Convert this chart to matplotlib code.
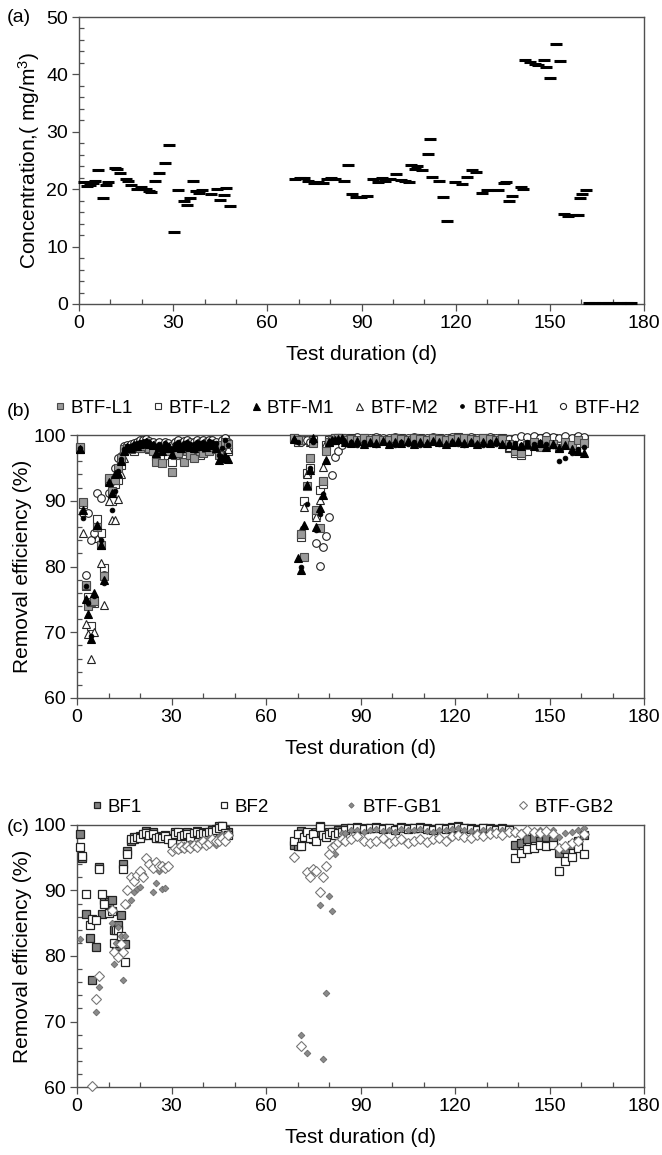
import matplotlib
matplotlib.use('Agg')
import matplotlib.pyplot as plt
from matplotlib.ticker import MultipleLocator

plt.rcParams['font.family'] = ['Liberation Sans', 'DejaVu Sans']
plt.rcParams['mathtext.fontset'] = 'custom'
plt.rcParams['mathtext.rm'] = 'Liberation Sans'
plt.rcParams['mathtext.it'] = 'Liberation Sans:italic'
plt.rcParams['mathtext.bf'] = 'Liberation Sans:bold'

nan = float('nan')

# ---------------- (a) inlet concentration ----------------
conc_days = [1.7, 2.4, 3.4, 4.4, 5.1, 6.0, 7.8, 8.5, 9.3, 11.4,
             12.2, 13.2, 14.9, 15.6, 16.5, 18.5, 19.6, 20.5, 21.2, 22.2,
             23.0, 24.3, 25.5, 27.3, 28.6, 30.4, 31.6, 33.3, 34.4, 35.3,
             36.3, 37.3, 38.3, 39.3, 42.0, 44.0, 45.0, 46.1, 46.7, 48.1,
             68.9, 70.5, 71.6, 72.9, 74.9, 76.3, 77.6, 79.0, 80.3, 81.7,
             84.3, 85.7, 87.0, 88.4, 89.7, 91.7, 93.7, 95.1, 96.4, 97.4,
             99.1, 101.1, 102.5, 103.8, 105.2, 105.8, 107.2, 107.8, 109.2, 111.2,
             111.9, 112.5, 114.6, 115.9, 117.2, 119.9, 121.9, 123.7, 125.3, 126.4,
             128.3, 130.0, 133.6, 135.4, 136.0, 137.1, 138.1, 140.7, 141.4, 142.1,
             143.8, 145.2, 146.1, 148.1, 148.8, 150.1, 151.9, 153.2, 154.6, 155.9,
             157.5, 159.1, 159.6, 160.2, 161.6,
             162.5, 164.5, 166.5, 168.5, 170.5, 172.5, 174.5, 176.0]
conc_vals = [21.3, 20.6, 20.8, 21.0, 21.5, 23.3, 18.4, 20.7, 21.3, 23.7,
             23.6, 22.8, 21.7, 21.4, 20.7, 20.0, 20.4, 20.1, 20.0, 19.7,
             19.5, 21.5, 22.9, 24.5, 27.7, 12.5, 19.8, 17.9, 17.3, 18.5,
             21.5, 19.6, 19.3, 19.8, 19.1, 20.1, 18.1, 19.0, 20.2, 17.0,
             21.7, 21.9, 22.0, 21.4, 21.0, 21.3, 21.0, 21.7, 21.9, 21.7,
             21.4, 24.3, 19.2, 18.7, 18.6, 18.8, 21.7, 21.3, 22.0, 21.5,
             21.7, 22.7, 21.6, 21.5, 21.3, 24.3, 23.5, 24.0, 23.3, 26.1,
             28.7, 22.2, 21.4, 18.6, 14.5, 21.2, 20.9, 22.1, 23.3, 23.0,
             19.4, 19.9, 19.8, 21.1, 21.3, 18.0, 18.9, 20.4, 20.0, 42.5,
             42.1, 41.8, 41.6, 42.5, 41.3, 39.3, 45.3, 42.4, 15.7, 15.4,
             15.5, 15.5, 18.4, 19.1, 19.8,
             0.1, 0.1, 0.1, 0.2, 0.2, 0.2, 0.2, 0.2]

# ---------------- (b) BTF series ----------------
days_b_early = [1, 2, 3, 3.5, 4.5, 5.5, 6.5, 7.5, 8.5, 10,
                11, 12, 13, 14, 15, 16, 17, 18, 19, 20,
                21, 22, 23, 24, 25, 26, 27, 28, 29, 30,
                31, 32, 33, 34, 35, 36, 37, 38, 39, 40,
                41, 42, 43, 44, 45, 46, 47, 48]
days_dip = [69, 70, 71, 72, 73, 74, 75, 76, 77, 78, 79, 80, 81, 82, 83, 84]
days_plateau = [85, 87, 89, 91, 93, 95, 97, 99, 101, 103,
                105, 107, 109, 111, 113, 115, 117, 119, 121, 123,
                125, 127, 129, 131, 133, 135, 137, 139, 141, 143,
                145, 147, 149, 151, 153, 155, 157, 159, 161]

L1_early = [98.2, 89.8, 77.2, 74.0, 74.6, 74.8, 86.0, 83.2, 78.6, 93.5,
            91.5, 93.2, 95.0, 96.5, 97.8, 98.0, 97.9, 98.2, 98.3, 98.0,
            98.4, 98.8, 98.0, 97.5, 95.9, 98.0, 95.7, 97.8, 97.5, 94.4,
            97.0, 97.3, 98.0, 95.9, 97.5, 97.0, 96.5, 98.0, 97.5, 97.2,
            98.0, 97.6, 98.2, 97.8, 97.0, 98.5, 99.0, 98.6]
L2_early = [98.0, 89.5, 77.0, 75.4, 71.0, 74.5, 87.3, 85.1, 79.7, 93.0,
            90.0, 92.5, 93.2, 95.5, 97.5, 97.8, 98.0, 97.6, 98.2, 98.0,
            98.5, 98.3, 97.8, 98.0, 96.8, 97.5, 96.3, 98.0, 97.0, 95.9,
            97.5, 98.0, 97.2, 96.8, 98.0, 97.3, 97.8, 98.3, 97.0, 98.0,
            97.5, 98.4, 97.9, 98.5, 97.5, 98.8, 99.3, 97.5]
M1_early = [97.8, 88.6, 75.0, 72.8, 69.0, 76.0, 86.3, 83.3, 78.0, 92.8,
            91.2, 94.0, 94.2, 96.0, 97.5, 98.2, 98.0, 98.5, 98.4, 98.6,
            98.8, 98.9, 98.7, 98.5, 97.3, 98.2, 97.5, 98.4, 98.0, 97.1,
            98.2, 98.5, 98.0, 98.3, 98.6, 98.2, 98.0, 98.7, 98.4, 98.6,
            98.2, 98.8, 98.5, 98.0, 96.2, 96.5, 96.8, 96.4]
M2_early = [97.8, 85.1, 71.3, 69.8, 66.0, 70.1, 84.3, 80.5, 74.1, 89.9,
            87.1, 87.1, 90.2, 94.0, 96.5, 97.8, 98.0, 98.3, 98.5, 98.7,
            98.9, 99.0, 98.8, 98.2, 97.8, 98.4, 98.0, 98.5, 98.2, 97.6,
            98.4, 98.6, 98.2, 98.6, 98.8, 98.4, 98.5, 98.8, 98.6, 98.9,
            98.5, 99.0, 98.8, 98.6, 97.5, 98.2, 99.0, 97.8]
H1_early = [98.0, 87.4, 77.0, 74.5, 69.5, 75.5, 86.0, 84.0, 77.5, 92.5,
            88.6, 91.5, 94.5, 96.3, 97.8, 98.3, 98.4, 98.6, 98.8, 98.9,
            99.0, 99.1, 98.9, 98.7, 98.3, 98.6, 98.2, 98.8, 98.5, 98.0,
            98.7, 98.9, 98.5, 98.8, 99.0, 98.7, 98.6, 99.0, 98.8, 99.0,
            98.7, 99.1, 98.9, 98.8, 97.0, 98.0, 99.2, 98.5]
H2_early = [98.0, 88.1, 78.7, 88.1, 84.1, 85.1, 91.2, 90.4, 78.7, 91.2,
            93.0, 95.0, 96.5, 96.8, 98.3, 98.5, 98.7, 98.8, 99.0, 99.2,
            99.3, 99.4, 99.1, 98.9, 98.6, 98.9, 98.4, 99.0, 98.8, 98.5,
            99.0, 99.2, 98.8, 99.1, 99.3, 99.0, 98.9, 99.2, 99.0, 99.3,
            99.0, 99.3, 99.2, 99.0, 98.5, 99.2, 99.5, 99.0]

L1_dip = [99.5, 99.2, 84.9, 81.4, 92.2, 96.5, 98.8, 88.6, 85.8, 93.0, 97.5, 99.0, 99.3, 99.5, 99.6, 99.5]
L2_dip = [99.6, 99.0, 84.5, 89.9, 94.2, 95.0, 99.2, 87.9, 91.7, 92.5, 98.5, 99.2, 99.4, 99.5, 99.5, 99.6]
M1_dip = [99.4, 81.3, 79.5, 86.3, 92.4, 94.7, 99.5, 86.0, 88.9, 90.9, 96.2, 99.0, 99.2, 99.3, 99.4, 99.5]
M2_dip = [99.5, 99.3, 85.5, 89.0, 94.0, 99.0, 99.3, 87.6, 90.1, 95.2, 98.8, 99.3, 99.4, 99.4, 99.5, 99.5]
H1_dip = [99.3, 99.0, 80.0, 86.0, 89.5, 95.0, 99.0, 85.5, 88.0, 91.0, 96.0, 98.8, 99.2, 99.3, 99.3, 99.4]
H2_dip = [99.5, 99.4, 99.0, 99.2, 99.3, 99.0, 98.8, 83.6, 80.1, 83.0, 84.6, 87.6, 93.9, 96.6, 97.5, 98.5]

L1_plat = [99.2, 99.4, 99.3, 99.5, 99.3, 99.4, 99.2, 99.3, 99.5, 99.4,
           99.3, 99.5, 99.4, 99.3, 99.5, 99.4, 99.3, 99.4, 99.6, 99.5,
           99.4, 99.3, 99.5, 99.4, 99.3, 99.4, 98.6, 97.5, 97.2, 98.5,
           99.0, 98.2, 99.3, 98.6, 98.0, 99.0, 98.5, 99.2, 98.8]
L2_plat = [99.4, 99.5, 99.3, 99.6, 99.4, 99.5, 99.3, 99.4, 99.6, 99.5,
           99.4, 99.6, 99.5, 99.4, 99.6, 99.5, 99.4, 99.5, 99.7, 99.6,
           99.5, 99.4, 99.6, 99.5, 99.4, 99.5, 98.0, 97.3, 97.0, 97.6,
           98.8, 99.5, 98.5, 99.6, 98.9, 99.4, 99.0, 99.6, 99.3]
M1_plat = [99.0, 98.8, 99.1, 98.7, 99.0, 98.8, 99.1, 98.7, 99.0, 98.8,
           99.1, 98.7, 99.0, 98.8, 99.1, 99.0, 98.7, 99.0, 99.1, 98.8,
           99.0, 98.7, 99.0, 98.8, 99.1, 98.7, 98.7, 98.5, 98.3, 98.6,
           98.4, 98.8, 98.2, 98.6, 98.0, 98.5, 97.8, 97.5, 97.2]
M2_plat = [99.3, 99.2, 99.4, 99.1, 99.3, 99.2, 99.4, 99.3, 99.2, 99.4,
           99.3, 99.2, 99.4, 99.3, 99.2, 99.3, 99.4, 99.2, 99.3, 99.4,
           99.2, 99.3, 99.4, 99.2, 99.3, 99.1, 98.2, 97.8, 98.3, 99.0,
           99.5, 98.8, 99.6, 99.0, 99.3, 99.6, 98.7, 99.5, 99.2]
H1_plat = [98.6, 98.9, 98.5, 98.9, 98.6, 98.5, 98.9, 98.6, 98.5, 98.9,
           98.6, 98.9, 98.5, 98.6, 98.9, 98.6, 98.5, 98.9, 98.6, 98.5,
           98.9, 98.6, 98.5, 98.9, 98.6, 98.5, 98.6, 98.8, 98.5, 98.9,
           98.7, 99.0, 98.6, 98.3, 96.0, 96.5, 97.2, 97.8, 98.2]
H2_plat = [99.6, 99.5, 99.7, 99.6, 99.5, 99.7, 99.6, 99.5, 99.7, 99.6,
           99.5, 99.7, 99.6, 99.5, 99.7, 99.6, 99.5, 99.7, 99.6, 99.5,
           99.7, 99.6, 99.5, 99.7, 99.6, 99.5, 99.4, 99.6, 99.8, 99.7,
           99.9, 99.6, 99.8, 99.7, 99.5, 99.8, 99.6, 99.9, 99.7]

# ---------------- (c) BF / BTF-GB series ----------------
days_c_early = [1, 1.6, 3, 4, 4.7, 6, 7, 8, 8.7, 10,
                11, 11.6, 12.3, 13, 14, 14.6, 15.2, 16,
                17, 18, 19, 20, 21, 22, 23, 24, 25, 26,
                27, 28, 29, 30, 31, 32, 33, 34, 35, 36,
                37, 38, 39, 40, 41, 42, 43, 44, 45, 46,
                47, 48]
BF1_early = [98.6, 95.0, 86.4, 82.8, 76.3, 81.4, 93.6, 86.4, 88.5, 88.2,
             88.5, 84.0, 81.6, 84.7, 86.2, 94.0, 81.9, 96.0,
             97.6, 98.1, 98.0, 98.3, 98.5, 99.1, 98.8, 98.9, 98.2, 98.0,
             98.3, 98.5, 98.0, 97.5, 98.9, 98.8, 98.5, 98.6, 98.9, 98.3,
             98.7, 99.1, 98.8, 98.5, 99.0, 98.7, 99.2, 99.4, 99.8, 99.9,
             99.3, 99.0]
BF2_early = [96.6, 95.3, 89.5, 84.7, 85.7, 85.5, 93.3, 89.5, 88.0, 86.5,
             86.9, 82.0, 83.9, 83.9, 83.1, 93.3, 79.1, 95.5,
             97.8, 97.9, 98.2, 98.0, 98.6, 98.8, 98.5, 98.7, 98.0, 98.2,
             98.0, 98.3, 97.8, 97.3, 98.6, 98.9, 98.3, 98.5, 98.7, 98.2,
             98.8, 98.9, 98.6, 98.8, 98.7, 99.0, 98.9, 99.3, 99.5, 99.8,
             98.8, 98.5]
GB1_early = [82.6, nan, nan, nan, nan, 71.5, 75.3, nan, nan, nan,
             85.0, 78.8, 82.0, 84.5, 83.0, 76.3, 83.1, 87.8,
             88.6, 89.8, 90.3, 90.6, 92.5, 94.8, 94.5, 89.8, 91.1, 93.0,
             90.2, 90.4, 93.9, 96.0, 96.5, 96.8, 96.4, 97.0, 96.8, 97.2,
             96.9, 97.3, 97.5, 97.8, 97.2, 98.0, 97.6, 97.0, 98.3, 98.6,
             98.0, 98.8]
GB2_early = [nan, nan, nan, nan, 60.1, 73.4, 76.9, nan, nan, nan,
             87.0, 80.6, nan, 79.8, 81.9, 80.6, 87.9, 90.0,
             92.0, 91.5, 92.3, 93.0, 92.0, 95.0, 94.0, 93.5, 94.4, 93.8,
             93.8, 93.5, 93.8, 96.0, 96.5, 96.3, 96.8, 96.5, 96.8, 96.5,
             97.0, 96.7, 97.2, 97.5, 97.0, 97.3, 97.8, 97.5, 97.6, 98.0,
             97.5, 98.5]

BF1_dip = [97.0, 96.8, 99.1, 98.0, 98.5, 98.3, 97.8, 99.0, 99.8, 98.5, 98.8, 99.0, 98.6, 98.9, 99.2, 98.9]
BF2_dip = [97.6, 98.6, 96.8, 98.2, 99.0, 98.0, 98.6, 97.5, 99.7, 98.4, 98.2, 98.7, 99.0, 98.5, 98.8, 99.0]
GB1_dip = [nan, nan, 67.9, nan, 65.2, nan, nan, nan, 87.8, 64.2, 74.4, 89.2, 86.9, 95.5, 97.5, 98.8]
GB2_dip = [95.1, nan, 66.2, nan, 92.8, 92.0, 93.3, 93.0, 89.7, 92.0, 93.8, 95.5, 96.6, 97.0, 97.4, 97.8]

BF1_plat = [99.5, 99.6, 99.7, 99.5, 99.6, 99.7, 99.5, 99.6, 99.4, 99.7,
            99.5, 99.6, 99.7, 99.5, 99.4, 99.6, 99.5, 99.7, 99.8, 99.6,
            99.5, 99.4, 99.6, 99.5, 99.4, 99.5, 99.3, 97.0, 97.3, 97.8,
            98.0, 97.5, 98.2, 97.6, 95.8, 96.3, 97.0, 97.5, 98.5]
BF2_plat = [99.3, 99.5, 99.6, 99.4, 99.5, 99.6, 99.4, 99.5, 99.3, 99.6,
            99.4, 99.5, 99.6, 99.4, 99.3, 99.5, 99.4, 99.6, 99.7, 99.5,
            99.4, 99.3, 99.5, 99.4, 99.3, 99.4, 99.2, 95.0, 95.8, 96.3,
            96.5, 97.0, 96.8, 97.0, 93.0, 94.5, 95.1, 96.5, 95.5]
GB1_plat = [98.8, 99.2, 99.3, 99.0, 99.2, 99.4, 99.1, 99.3, 99.0, 99.4,
            99.2, 99.3, 99.4, 99.1, 99.0, 99.3, 99.2, 99.4, 99.5, 99.3,
            99.1, 99.0, 99.3, 99.2, 99.0, 99.2, 99.0, 98.6, 99.0, 99.3,
            98.8, 99.2, 99.0, 99.3, 98.2, 98.8, 99.0, 99.3, 99.5]
GB2_plat = [97.5, 97.8, 98.3, 97.5, 97.3, 97.6, 98.0, 97.3, 97.5, 97.8,
            97.2, 97.6, 97.9, 97.4, 97.8, 98.0, 97.6, 98.3, 98.5, 98.2,
            98.0, 98.5, 98.3, 98.6, 98.8, 98.5, 98.9, 99.0, 98.7, 99.2,
            99.0, 98.8, 99.1, 98.6, 96.5, 96.8, 97.3, 97.5, 98.6]

labels_b = ['BTF-L1', 'BTF-L2', 'BTF-M1', 'BTF-M2', 'BTF-H1', 'BTF-H2']
labels_c = ['BF1', 'BF2', 'BTF-GB1', 'BTF-GB2']

# ---------------- figure ----------------
W, H = 662, 1155
fig = plt.figure(figsize=(W / 100, H / 100), dpi=100)


def rect(l, t, r, b):
    return [l / W, 1 - b / H, (r - l) / W, (b - t) / H]


axA = fig.add_axes(rect(79, 17, 644, 304))
axB = fig.add_axes(rect(77, 435, 644, 698))
axC = fig.add_axes(rect(77, 825, 644, 1087))

SPINE = '#505050'


def style(ax, ylo, yhi, ymaj, ymin):
    ax.set_xlim(0, 180)
    ax.set_ylim(ylo, yhi)
    ax.xaxis.set_major_locator(MultipleLocator(30))
    ax.xaxis.set_minor_locator(MultipleLocator(10))
    ax.yaxis.set_major_locator(MultipleLocator(ymaj))
    ax.yaxis.set_minor_locator(MultipleLocator(ymin))
    ax.tick_params(which='major', direction='out', length=5, width=0.9,
                   color=SPINE, labelsize=14, pad=3)
    ax.tick_params(which='minor', direction='in', length=3.5, width=0.9,
                   color=SPINE)
    for s in ax.spines.values():
        s.set_color(SPINE)
        s.set_linewidth(1.0)
        s.set_zorder(1)
    ax.set_xlabel('Test duration (d)', fontsize=15, labelpad=9)


# (a)
axA.plot(conc_days, conc_vals, linestyle='none', marker='_', markersize=8.5,
         markeredgewidth=2.2, color='black', clip_on=False)
style(axA, 0, 50, 10, 2)
axA.set_ylabel('Concentration,( mg/m$^3$)', fontsize=15)
axA.yaxis.set_label_coords(-0.066, 0.5)

# (b)
b_styles = [
    dict(marker='s', ms=5.5, mfc='#9a9a9a', mec='#4a4a4a', mew=0.8, zorder=2.3),
    dict(marker='s', ms=5.5, mfc='white', mec='#333333', mew=0.8, zorder=2.0),
    dict(marker='^', ms=6.3, mfc='black', mec='black', mew=0.8, zorder=2.4),
    dict(marker='^', ms=6.3, mfc='white', mec='#222222', mew=0.8, zorder=2.1),
    dict(marker='o', ms=3.4, mfc='black', mec='black', mew=0.6, zorder=2.5),
    dict(marker='o', ms=5.5, mfc='white', mec='#222222', mew=0.8, zorder=2.2),
]
b_series = [
    (L1_early, L1_dip, L1_plat),
    (L2_early, L2_dip, L2_plat),
    (M1_early, M1_dip, M1_plat),
    (M2_early, M2_dip, M2_plat),
    (H1_early, H1_dip, H1_plat),
    (H2_early, H2_dip, H2_plat),
]
for lab, (e, d, p), st in zip(labels_b, b_series, b_styles):
    xs = days_b_early + days_dip + days_plateau
    ys = e + d + p
    axB.plot(xs, ys, linestyle='none', label=lab, clip_on=False, **st)
style(axB, 60, 100, 10, 2)
axB.set_ylabel('Removal efficiency (%)', fontsize=15)
axB.yaxis.set_label_coords(-0.08, 0.5)
axB.legend(loc='center left', bbox_to_anchor=(0.08, 1 - 408 / H),
           bbox_transform=fig.transFigure, ncol=6, frameon=False,
           fontsize=13.5, handlelength=0.7, handletextpad=0.25,
           columnspacing=0.95, borderpad=0, borderaxespad=0, markerscale=0.8)

# (c)
c_styles = [
    dict(marker='s', ms=6.0, mfc='#808080', mec='#222222', mew=0.9),
    dict(marker='s', ms=6.0, mfc='white', mec='#222222', mew=0.9),
    dict(marker='D', ms=3.4, mfc='#8a8a8a', mec='#6a6a6a', mew=0.6),
    dict(marker='D', ms=5.5, mfc='white', mec='#777777', mew=0.8),
]
c_series = [
    (BF1_early, BF1_dip, BF1_plat),
    (BF2_early, BF2_dip, BF2_plat),
    (GB1_early, GB1_dip, GB1_plat),
    (GB2_early, GB2_dip, GB2_plat),
]
for lab, (e, d, p), st in zip(labels_c, c_series, c_styles):
    xs = days_c_early + days_dip + days_plateau
    ys = e + d + p
    axC.plot(xs, ys, linestyle='none', label=lab, clip_on=False, **st)
style(axC, 60, 100, 10, 2)
axC.set_ylabel('Removal efficiency (%)', fontsize=15)
axC.yaxis.set_label_coords(-0.08, 0.5)
axC.legend(loc='center left', bbox_to_anchor=(0.136, 1 - 807 / H),
           bbox_transform=fig.transFigure, ncol=4, frameon=False,
           fontsize=13.5, handlelength=0.7, handletextpad=0.25,
           columnspacing=4.0, borderpad=0, borderaxespad=0, markerscale=0.8)

# panel letters
for letter, y in (('(a)', 18), ('(b)', 412), ('(c)', 827)):
    fig.text(7 / W, 1 - y / H, letter, fontsize=14, ha='left', va='center')

fig.savefig('out.png', dpi=100)
